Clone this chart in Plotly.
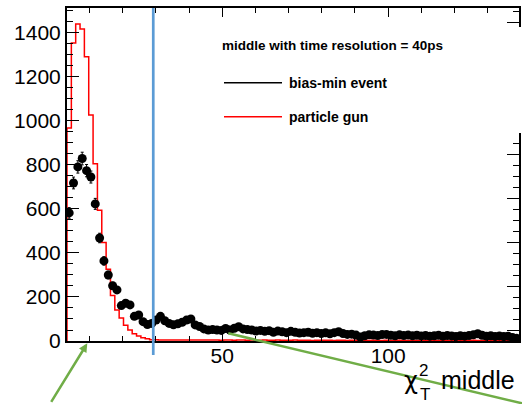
import numpy as np
import plotly.graph_objects as go

# ---- data -------------------------------------------------------------
X_MIN = 3.2          # first bin edge (axis starts here)
BIN_WIDTH = 1.31
CUT_X = 29.2         # vertical (blue) cut line

bias_min_event = [
    582, 718, 791, 829, 774, 745, 623, 468, 364, 300, 251, 232, 161, 172, 164, 112,
    118, 88, 75, 80, 95, 112, 92, 80, 74, 78, 85, 95, 100, 73, 66, 55, 50, 52, 50, 48,
    57, 50, 58, 65,
    55, 52, 50, 45, 48, 44, 47, 40, 45, 42, 38, 44, 40, 36, 38, 40, 35, 38, 34, 37,
    33, 38, 42, 34, 30, 31, 27, 18, 24, 28, 27, 25, 29, 30, 26, 24, 28, 25, 27, 24,
    26, 23, 25, 22, 24, 26, 22, 25, 23, 21, 24, 22, 25, 28, 33, 26, 22, 24, 21, 23,
    20, 22, 16, 12,
]

particle_gun = [
    968, 1354, 1440, 1418, 1291, 1027, 805, 594, 447, 326, 207, 141, 104, 72, 50, 33,
    23, 15, 10, 6,
    6, 5, 5, 4, 5, 4, 5, 4, 4, 5, 4, 4, 5, 4, 4, 3, 4, 4, 3, 4,
    4, 3, 4, 3, 3, 4, 3, 3, 4, 3, 3, 3, 4, 3, 3, 3, 2, 3, 3, 3,
    3, 2, 3, 3, 2, 3, 3, 2, 3, 2, 3, 2, 2, 3, 2, 2, 3, 2, 2, 2,
    2, 3, 2, 2, 2, 2, 3, 2, 2, 2, 2, 2, 2, 3, 2, 2, 2, 2, 2, 2, 2, 2, 2, 2,
]

x_tick_vals = [50, 100]
y_tick_vals = [0, 200, 400, 600, 800, 1000, 1200, 1400]

title_text = "middle with time resolution = 40ps"
legend_labels = ["bias-min event", "particle gun"]

# ---- derived ----------------------------------------------------------
n_bins = len(bias_min_event)
edges = X_MIN + BIN_WIDTH * np.arange(n_bins + 1)
centers = 0.5 * (edges[:-1] + edges[1:])
X_MAX = edges[-1]
Y_MAX = 1513

FONT = "Liberation Sans, Arial, Helvetica, sans-serif"
GREEN = "#70AD47"
BLUE = "#5B9BD5"

fig = go.Figure()

step_x = [edges[0]] + list(edges[:-1]) + [edges[-1]]
step_y = [0] + list(particle_gun) + [particle_gun[-1]]
fig.add_trace(go.Scatter(
    x=step_x, y=step_y, mode="lines", line=dict(color="#ff0000", width=1.5, shape="hv"),
    showlegend=False, hoverinfo="skip"))

fig.add_trace(go.Scatter(
    x=centers, y=bias_min_event, mode="markers",
    marker=dict(color="black", size=9),
    error_y=dict(type="data", array=np.sqrt(bias_min_event), color="black", thickness=1, width=1.5),
    showlegend=False))

# invisible trace to activate right axis
fig.add_trace(go.Scatter(x=[X_MIN], y=[0], yaxis="y2", mode="markers",
                         marker=dict(opacity=0), showlegend=False, hoverinfo="skip"))

fig.update_layout(
    width=522, height=404,
    margin=dict(l=67, r=3, t=8, b=63),
    paper_bgcolor="white", plot_bgcolor="white",
    font=dict(family=FONT, color="black"),
    xaxis=dict(
        range=[X_MIN, X_MAX], tickvals=x_tick_vals, ticks="inside", ticklen=9, tickwidth=1,
        tickcolor="black", showline=True, linecolor="black", linewidth=2, mirror="ticks",
        showgrid=False, zeroline=False, tickfont=dict(size=21), ticklabelstandoff=-5,
        minor=dict(dtick=10, tick0=0, ticks="inside", ticklen=5, tickcolor="black", tickwidth=1),
    ),
    yaxis=dict(
        range=[0, Y_MAX], tickvals=y_tick_vals, ticks="inside", ticklen=12, tickwidth=1,
        tickcolor="black", showline=True, linecolor="black", linewidth=2,
        showgrid=False, zeroline=False, tickfont=dict(size=21),
        minor=dict(dtick=50, tick0=0, ticks="inside", ticklen=6, tickcolor="black", tickwidth=1),
    ),
    yaxis2=dict(
        overlaying="y", side="right", range=[-46.4, 1467], dtick=200, tick0=0,
        ticks="inside", ticklen=12, tickwidth=1, tickcolor="black", showticklabels=False,
        showline=True, linecolor="black", linewidth=2, showgrid=False, zeroline=False,
        minor=dict(dtick=50, tick0=0, ticks="inside", ticklen=6, tickcolor="black", tickwidth=1),
    ),
)

def px_x(p):
    return (p - 67) / 452.0

def px_y(p):
    return (341 - p) / 333.0

shapes = [
    # blue cut line
    dict(type="line", xref="x", yref="paper", x0=CUT_X, x1=CUT_X, y0=px_y(355), y1=1.0,
         line=dict(color=BLUE, width=2.7), layer="above"),
    # white legend box hiding the right frame
    dict(type="rect", xref="paper", yref="paper", x0=px_x(200), x1=px_x(525),
         y0=px_y(133), y1=px_y(27), fillcolor="white", line=dict(width=0), layer="above"),
    # legend lines
    dict(type="line", xref="paper", yref="paper", x0=px_x(224), x1=px_x(282),
         y0=px_y(82.7), y1=px_y(82.7), line=dict(color="black", width=1.5), layer="above"),
    dict(type="line", xref="paper", yref="paper", x0=px_x(224), x1=px_x(282),
         y0=px_y(116.7), y1=px_y(116.7), line=dict(color="#ff0000", width=1.5), layer="above"),
    # green pointer line
    dict(type="line", xref="paper", yref="paper", x0=px_x(228.3), y0=px_y(333.3),
         x1=px_x(530), y1=px_y(405.2), line=dict(color=GREEN, width=2.5), layer="above"),
]
fig.update_layout(shapes=shapes)

annotations = [
    dict(text=f"<b>{title_text}</b>", x=px_x(220), y=px_y(45.7), xref="paper", yref="paper",
         xanchor="left", yanchor="middle", showarrow=False, font=dict(size=13.5)),
    dict(text=f"<b>{legend_labels[0]}</b>", x=px_x(286.7), y=px_y(82.7), xref="paper", yref="paper",
         xanchor="left", yanchor="middle", showarrow=False, font=dict(size=14)),
    dict(text=f"<b>{legend_labels[1]}</b>", x=px_x(286.7), y=px_y(116.7), xref="paper", yref="paper",
         xanchor="left", yanchor="middle", showarrow=False, font=dict(size=14)),
    # axis title: chi^2_T middle
    dict(text="χ", x=px_x(402), y=px_y(381), xref="paper", yref="paper",
         xanchor="left", yanchor="middle", showarrow=False,
         font=dict(size=24, family="DejaVu Sans")),
    dict(text="2", x=px_x(417), y=px_y(370), xref="paper", yref="paper",
         xanchor="left", yanchor="middle", showarrow=False, font=dict(size=17)),
    dict(text="T", x=px_x(418), y=px_y(394), xref="paper", yref="paper",
         xanchor="left", yanchor="middle", showarrow=False, font=dict(size=17)),
    dict(text="middle", x=px_x(439), y=px_y(380), xref="paper", yref="paper",
         xanchor="left", yanchor="middle", showarrow=False, font=dict(size=25)),
    # green arrow
    dict(text="", x=px_x(87.3), y=px_y(343.3), xref="paper", yref="paper",
         showarrow=True, ax=-37, ay=60, arrowcolor=GREEN, arrowwidth=2.5,
         arrowhead=2, arrowsize=0.7),
]
fig.update_layout(annotations=annotations)

fig.write_html("out.html")
